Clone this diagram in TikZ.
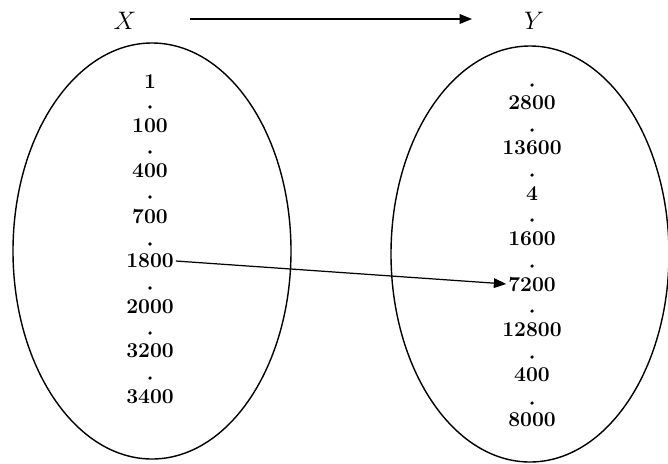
\documentclass[tikz,border=0pt]{standalone}
\usepackage{amsmath}
\usepackage{tikz}
\usetikzlibrary{shapes.geometric, positioning, arrows.meta}

\begin{document}
\begin{tikzpicture}[
    setbox/.style={draw, line width=0.8pt, ellipse, inner sep=0pt,
                   minimum width=5.56cm, minimum height=8.32cm},
    elem/.style={font=\large\bfseries, inner sep=1pt},
    sep/.style={circle, fill, inner sep=0pt, minimum size=2pt},
    setname/.style={font=\Large},
    mapto/.style={line width=0.7pt, -{Triangle[length=7pt, width=5.5pt]}}
]
    \useasboundingbox (0,0) rectangle (13.36,-9.26);

    % ========== sets ==========
    \node[setbox] (setX) at (3.04, -5.02) {};
    \node[setbox] (setY) at (10.6, -5.08) {};

    \node[setname] (lblX) at (2.5, -0.42)  {$X$};
    \node[setname] (lblY) at (10.68, -0.42) {$Y$};
    \coordinate (top_from) at (3.8, -0.38);
    \coordinate (top_to)   at (9.44, -0.38);

    % ========== elements of X ==========
    \node[elem] (x1)    at (3.0, -1.64) {1};
    \node[sep]  (xd1)   at (3.0, -2.14) {};
    \node[elem] (x100)  at (3.0, -2.52) {100};
    \node[sep]  (xd2)   at (3.0, -3.04) {};
    \node[elem] (x400)  at (3.0, -3.42) {400};
    \node[sep]  (xd3)   at (3.0, -3.94) {};
    \node[elem] (x700)  at (3.0, -4.32) {700};
    \node[sep]  (xd4)   at (3.0, -4.88) {};
    \node[elem] (x1800) at (3.0, -5.22) {1800};
    \node[sep]  (xd5)   at (3.0, -5.76) {};
    \node[elem] (x2000) at (3.0, -6.14) {2000};
    \node[sep]  (xd6)   at (3.0, -6.66) {};
    \node[elem] (x3200) at (3.0, -7.02) {3200};
    \node[sep]  (xd7)   at (3.0, -7.56) {};
    \node[elem] (x3400) at (3.0, -7.94) {3400};

    % ========== elements of Y ==========
    \node[sep]  (yd1)    at (10.64, -1.70) {};
    \node[elem] (y2800)  at (10.64, -2.06) {2800};
    \node[sep]  (yd2)    at (10.64, -2.60) {};
    \node[elem] (y13600) at (10.64, -2.96) {13600};
    \node[sep]  (yd3)    at (10.64, -3.50) {};
    \node[elem] (y4)     at (10.64, -3.88) {4};
    \node[sep]  (yd4)    at (10.64, -4.40) {};
    \node[elem] (y1600)  at (10.64, -4.78) {1600};
    \node[sep]  (yd5)    at (10.64, -5.32) {};
    \node[elem] (y7200)  at (10.64, -5.68) {7200};
    \node[sep]  (yd6)    at (10.64, -6.22) {};
    \node[elem] (y12800) at (10.64, -6.60) {12800};
    \node[sep]  (yd7)    at (10.64, -7.14) {};
    \node[elem] (y400)   at (10.64, -7.50) {400};
    \node[sep]  (yd8)    at (10.64, -8.06) {};
    \node[elem] (y8000)  at (10.64, -8.40) {8000};

    % --- mappings ---
    \draw[mapto] (top_from) -- (top_to);
    \draw[mapto] (x1800.east) -- (y7200.west);
\end{tikzpicture}
\end{document}
